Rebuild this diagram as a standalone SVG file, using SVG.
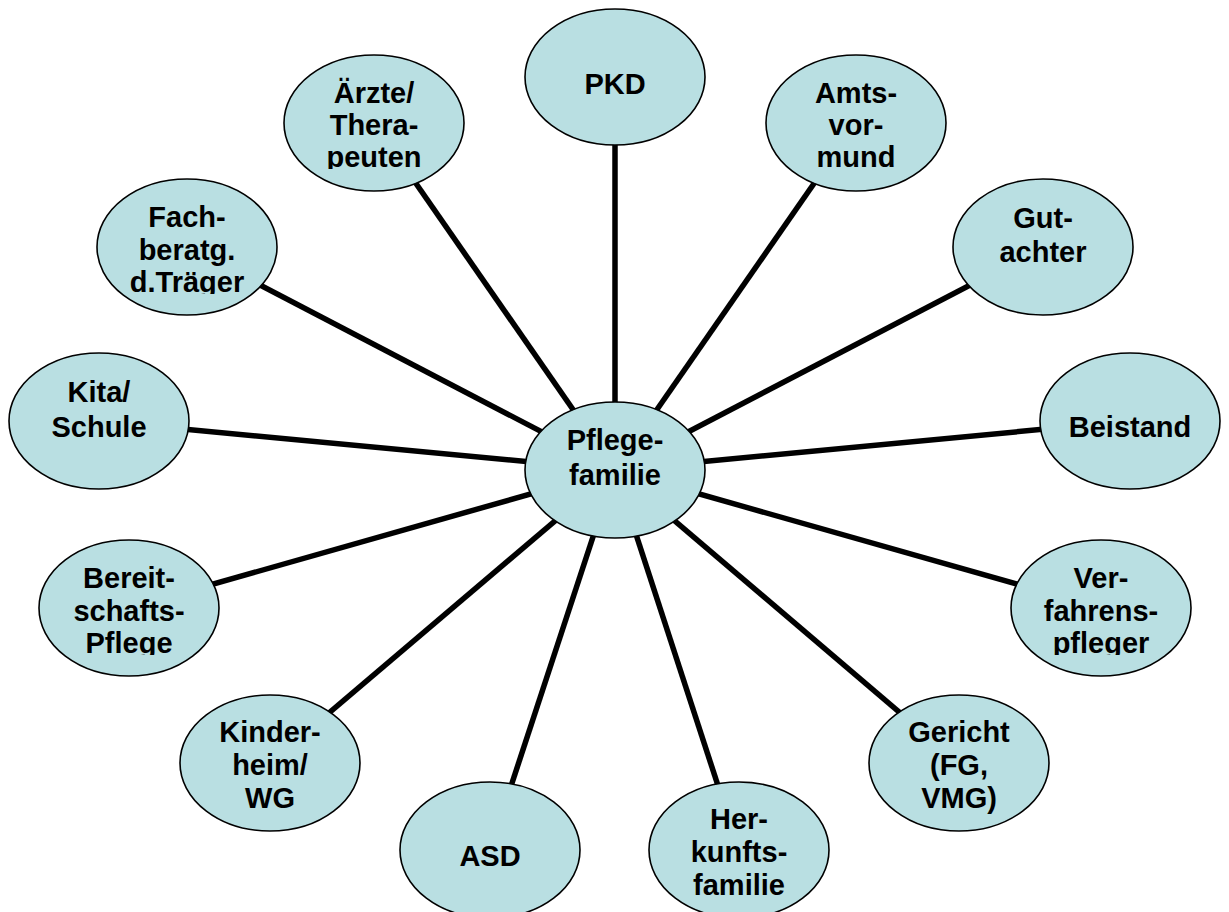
<svg xmlns="http://www.w3.org/2000/svg" width="1229" height="912" viewBox="0 0 1229 912">
<style>
.n ellipse{fill:#B9DFE2;stroke:#000;stroke-width:1.6}
.n text{font-family:"Liberation Sans",Arial,sans-serif;font-weight:bold;font-size:29px;fill:#000;text-anchor:middle}
#connectors line{stroke:#000;stroke-width:5.5}
</style>
<defs>
<clipPath id="cA"><rect x="280" y="50" width="190" height="119"/></clipPath>
<clipPath id="cF"><rect x="90" y="175" width="200" height="119"/></clipPath>
<clipPath id="cB"><rect x="30" y="535" width="200" height="120"/></clipPath>
<clipPath id="cV"><rect x="1000" y="535" width="200" height="120"/></clipPath>
</defs>
<rect width="1229" height="912" fill="#fff"/>
<g id="connectors">
<line x1="615" y1="470" x2="615" y2="77"/>
<line x1="615" y1="470" x2="374" y2="123"/>
<line x1="615" y1="470" x2="856" y2="123"/>
<line x1="615" y1="470" x2="187" y2="247"/>
<line x1="615" y1="470" x2="1043" y2="247"/>
<line x1="615" y1="470" x2="99" y2="421"/>
<line x1="615" y1="470" x2="1130" y2="421"/>
<line x1="615" y1="470" x2="129" y2="608"/>
<line x1="615" y1="470" x2="1101" y2="608"/>
<line x1="615" y1="470" x2="270" y2="763"/>
<line x1="615" y1="470" x2="959" y2="763"/>
<line x1="615" y1="470" x2="490" y2="850"/>
<line x1="615" y1="470" x2="739" y2="850"/>
</g>
<g id="pflegefamilie" class="n"><ellipse cx="615" cy="470" rx="90" ry="68"/><text x="615" y="450">Pflege-</text><text x="615" y="485">familie</text></g>
<g id="pkd" class="n"><ellipse cx="615" cy="77" rx="90" ry="68"/><text x="615" y="94">PKD</text></g>
<g id="aerzte" class="n"><ellipse cx="374" cy="123" rx="90" ry="68"/><g clip-path="url(#cA)"><text x="374" y="103">Ärzte/</text><text x="374" y="135">Thera-</text><text x="374" y="167">peuten</text></g></g>
<g id="amtsvormund" class="n"><ellipse cx="856" cy="123" rx="90" ry="68"/><text x="856" y="103">Amts-</text><text x="856" y="135">vor-</text><text x="856" y="167">mund</text></g>
<g id="fachberatung" class="n"><ellipse cx="187" cy="247" rx="90" ry="68"/><g clip-path="url(#cF)"><text x="187" y="227">Fach-</text><text x="187" y="260">beratg.</text><text x="187" y="292">d.Träger</text></g></g>
<g id="gutachter" class="n"><ellipse cx="1043" cy="247" rx="90" ry="68"/><text x="1043" y="228">Gut-</text><text x="1043" y="262">achter</text></g>
<g id="kita" class="n"><ellipse cx="99" cy="421" rx="90" ry="68"/><text x="99" y="402">Kita/</text><text x="99" y="437">Schule</text></g>
<g id="beistand" class="n"><ellipse cx="1130" cy="421" rx="90" ry="68"/><text x="1130" y="437">Beistand</text></g>
<g id="bereitschaftspflege" class="n"><ellipse cx="129" cy="608" rx="90" ry="68"/><g clip-path="url(#cB)"><text x="129" y="588">Bereit-</text><text x="129" y="621">schafts-</text><text x="129" y="653">Pflege</text></g></g>
<g id="verfahrenspfleger" class="n"><ellipse cx="1101" cy="608" rx="90" ry="68"/><g clip-path="url(#cV)"><text x="1101" y="588">Ver-</text><text x="1101" y="621">fahrens-</text><text x="1101" y="653">pfleger</text></g></g>
<g id="kinderheim" class="n"><ellipse cx="270" cy="763" rx="90" ry="68"/><text x="270" y="742">Kinder-</text><text x="270" y="775">heim/</text><text x="270" y="808">WG</text></g>
<g id="gericht" class="n"><ellipse cx="959" cy="763" rx="90" ry="68"/><text x="959" y="742">Gericht</text><text x="959" y="775">(FG,</text><text x="959" y="808">VMG)</text></g>
<g id="asd" class="n"><ellipse cx="490" cy="850" rx="90" ry="68"/><text x="490" y="866">ASD</text></g>
<g id="herkunftsfamilie" class="n"><ellipse cx="739" cy="850" rx="90" ry="68"/><text x="739" y="829">Her-</text><text x="739" y="862">kunfts-</text><text x="739" y="895">familie</text></g>
</svg>
